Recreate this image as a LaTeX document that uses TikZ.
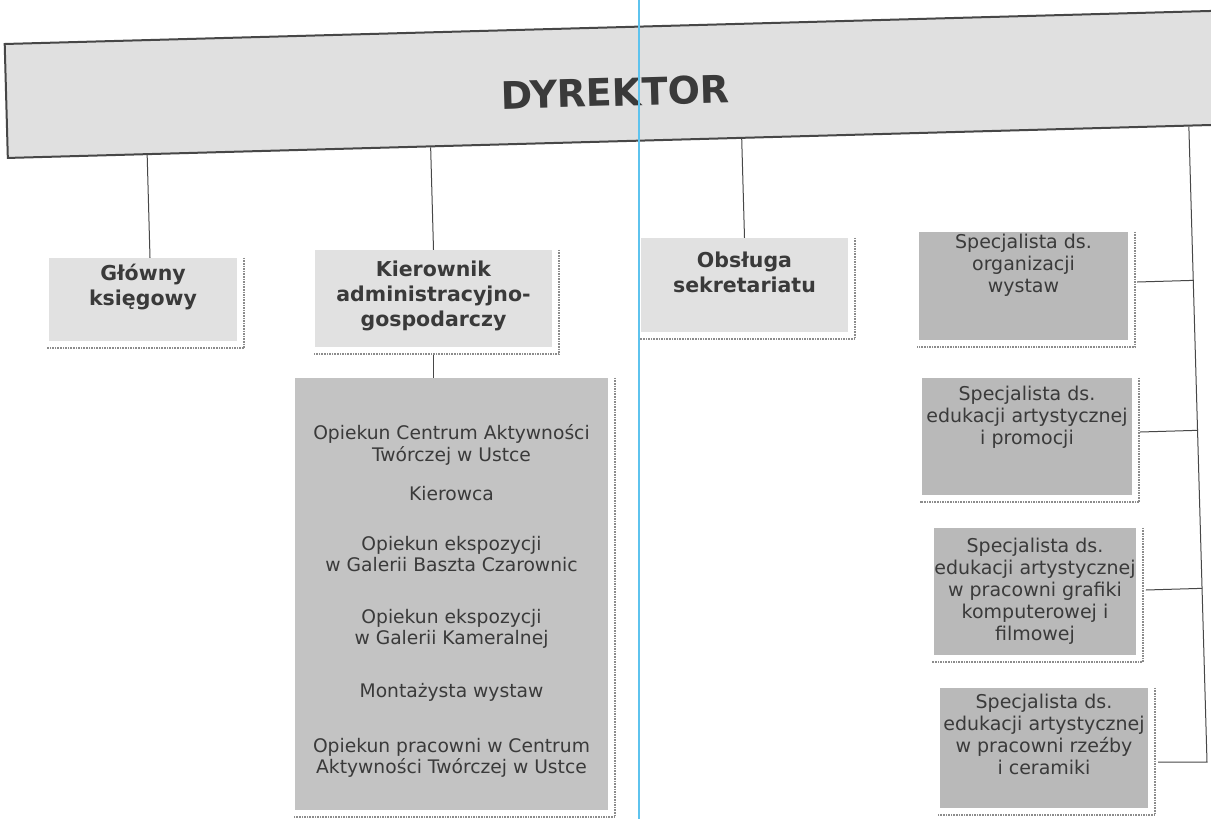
\documentclass[tikz,border=0pt]{standalone}
\usepackage{fontspec}
\setmainfont{DejaVu Sans}
\usetikzlibrary{calc}
\definecolor{dirfill}{HTML}{E0E0E0}
\definecolor{lightbox}{HTML}{E1E1E1}
\definecolor{bigfill}{HTML}{C3C3C3}
\definecolor{specfill}{HTML}{B9B9B9}
\definecolor{txt}{HTML}{3A3A3A}
\definecolor{linec}{HTML}{474747}
\definecolor{shad}{HTML}{8C8C8C}
\definecolor{scanblue}{HTML}{5EC3EE}
\newcommand{\mlines}[1]{\begin{tabular}[b]{@{}c@{}}#1\end{tabular}}
\newcommand{\shadowfor}[1]{\draw[shadowline] ([xshift=7pt]#1.north east) -- ([xshift=7pt,yshift=-7pt]#1.south east) -- ([xshift=-2pt,yshift=-7pt]#1.south west);}
\begin{document}
\begin{tikzpicture}[x=1pt,y=-1pt,
  box/.style={inner sep=0pt, text=txt},
  titlebox/.style={box, fill=lightbox, font=\fontsize{20.5}{25}\selectfont\bfseries},
  specbox/.style={box, fill=specfill, font=\fontsize{19}{22}\selectfont},
  bigbox/.style={box, fill=bigfill, font=\fontsize{18.7}{21}\selectfont},
  conn/.style={draw=linec, line width=1pt},
  shadowline/.style={draw=shad, line width=1.6pt, dash pattern=on 1.6pt off 1pt}]
\useasboundingbox[fill=white] (0,0) rectangle (1211,819);

% director
\node[draw=linec, line width=2pt, fill=dirfill, rotate=1.57, minimum width=1240pt,
      minimum height=114pt, inner sep=0pt, text=txt,
      font=\fontsize{38}{40}\selectfont\bfseries, text height=43.7pt, text depth=0pt]
      (dir) at (626,84) {DYREKTOR\kern22pt\null};

% boxes
\node[titlebox, minimum width=188pt, minimum height=83pt, text depth=30.5pt] (gk) at (143,299.5) {\mlines{Główny\\księgowy}};
\node[titlebox, minimum width=237pt, minimum height=97pt, text depth=12.5pt] (kier) at (433.5,298.5) {\mlines{Kierownik\\administracyjno-\\gospodarczy}};
\node[titlebox, minimum width=207pt, minimum height=94pt, text depth=27.5pt] (obs) at (744.5,285) {\mlines{Obsługa\\sekretariatu}};
\node[bigbox, minimum width=313pt, minimum height=432pt, text height=365pt, text depth=6.3pt] (big) at (451.5,594)
  {\mlines{Opiekun Centrum Aktywności\\Twórczej w Ustce\\[18pt]Kierowca\\[29pt]Opiekun ekspozycji\\w Galerii Baszta Czarownic\\[31pt]Opiekun ekspozycji\\w Galerii Kameralnej\\[32pt]Montażysta wystaw\\[34pt]Opiekun pracowni w Centrum\\Aktywności Twórczej w Ustce}};
\node[specbox, minimum width=209pt, minimum height=108pt, text depth=46.5pt] (org) at (1023.5,286) {\mlines{Specjalista ds.\\organizacji\\wystaw}};
\node[specbox, minimum width=210pt, minimum height=117pt, text depth=43.5pt] (prom) at (1027,436.5) {\mlines{Specjalista ds.\\edukacji artystycznej\\i promocji}};
\node[specbox, minimum width=200pt, minimum height=127pt, text depth=5.5pt] (graf) at (1035,591.5) {\mlines{Specjalista ds.\\edukacji artystycznej\\w pracowni grafiki\\komputerowej i\\filmowej}};
\node[specbox, minimum width=208pt, minimum height=120pt, text depth=27.5pt] (rz) at (1044,748) {\mlines{Specjalista ds.\\edukacji artystycznej\\w pracowni rzeźby\\i ceramiki}};

% dotted shadows
\shadowfor{gk}
\shadowfor{kier}
\shadowfor{obs}
\shadowfor{big}
\shadowfor{org}
\shadowfor{prom}
\shadowfor{graf}
\shadowfor{rz}

% connectors from director
\coordinate (gktop) at ([xshift=7pt]gk.north);
\draw[conn] (gktop) -- ($(dir.south west)!(gktop)!(dir.south east)$);
\draw[conn] (kier.north) -- ($(dir.south west)!(kier.north)!(dir.south east)$);
\draw[conn] (obs.north) -- ($(dir.south west)!(obs.north)!(dir.south east)$);
\draw[conn] ([yshift=-8pt]kier.south) -- (kier.south |- big.north);

% right bracket
\coordinate (rtop) at ($(dir.south west)!(1191,200)!(dir.south east)$);
\coordinate (rbot) at (1207,762);
\coordinate (c1) at ([xshift=9pt,yshift=4pt]org.east);
\coordinate (c2) at ([xshift=8pt,yshift=4.5pt]prom.east);
\coordinate (c3) at ([xshift=10pt,yshift=1.5pt]graf.east);
\coordinate (c4) at ([xshift=10pt,yshift=-14pt]rz.east);
\draw[conn] (rtop) -- (rbot) -- (c4);
\draw[conn] (c1) -- ($(rtop)!(c1)!(rbot)$);
\draw[conn] (c2) -- ($(rtop)!(c2)!(rbot)$);
\draw[conn] (c3) -- ($(rtop)!(c3)!(rbot)$);

% scan line
\draw[scanblue, line width=2.5pt] (639,0) -- (639,819);
\end{tikzpicture}
\end{document}
